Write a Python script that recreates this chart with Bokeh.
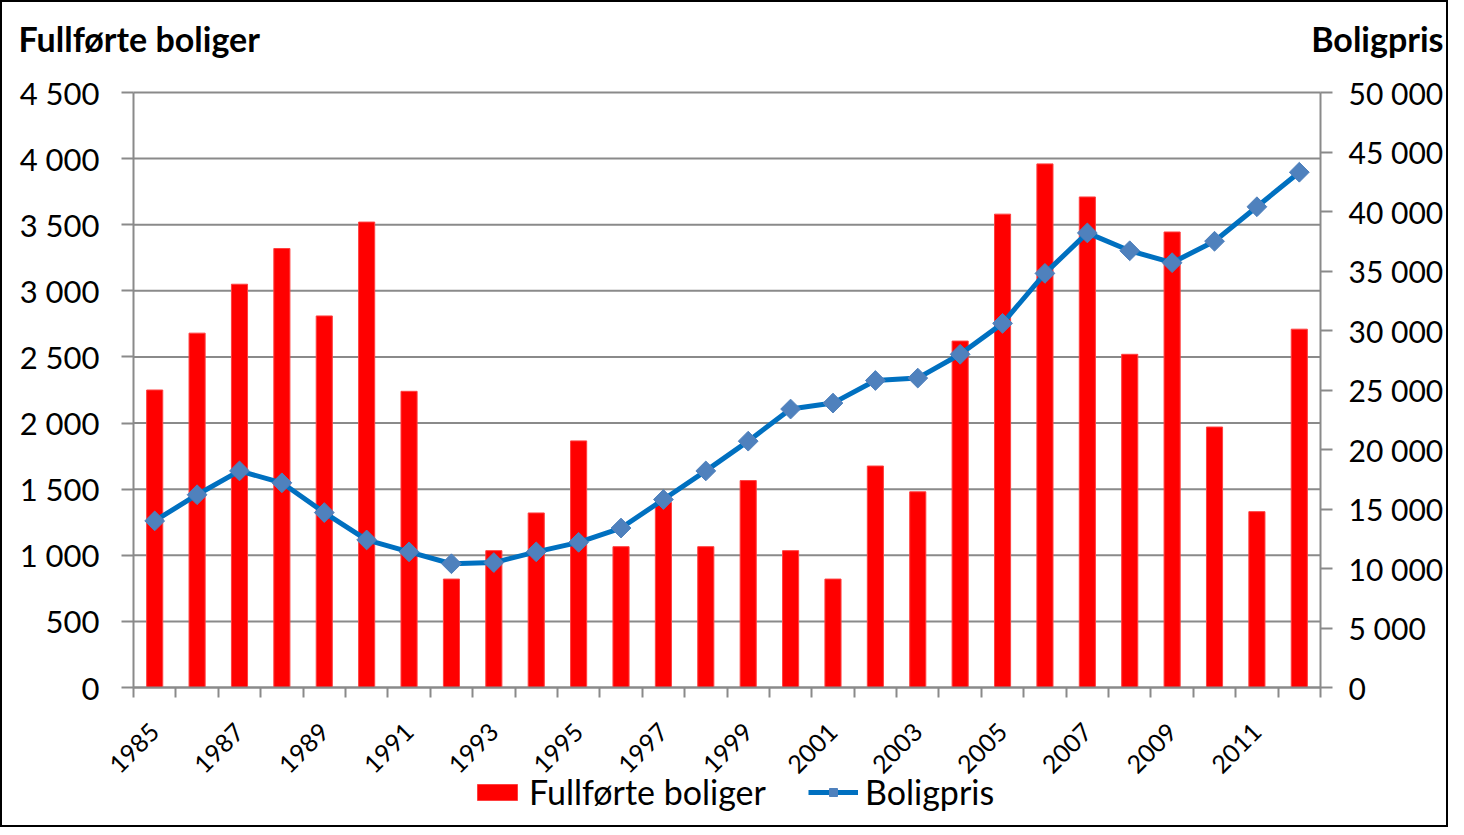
from math import pi
from bokeh.plotting import figure
from bokeh.models import (Range1d, LinearAxis, FixedTicker, Legend, LegendItem,
                          Label, ColumnDataSource)
from bokeh.embed import file_html
from bokeh.resources import INLINE

# ---- data ----
years = list(range(1985, 2013))
fullforte_boliger = [2250, 2680, 3050, 3320, 2810, 3520, 2240, 820, 1035, 1320,
                     1865, 1065, 1400, 1065, 1565, 1035, 820, 1675, 1480, 2620,
                     3580, 3960, 3710, 2520, 3445, 1970, 1330, 2710]
boligpris = [14000, 16200, 18200, 17200, 14700, 12400, 11400, 10400, 10500, 11400,
             12200, 13400, 15800, 18200, 20700, 23400, 23900, 25800, 26000, 28000,
             30600, 34800, 38200, 36700, 35700, 37500, 40400, 43300]
left_ticks = list(range(0, 4501, 500))
right_ticks = list(range(0, 50001, 5000))

def fmt(v):
    return f"{v:,}".replace(",", " ")

FONT = "Lato"
GRAY = "#8a8a8a"

# ---- layout (canvas pixels) ----
W, H = 1448, 827
N = len(years)
LEFT_MAX, RIGHT_MAX = 4500, 50000
PX_X0, PX_XN = 131, 1318        # x of left / right axis
PX_Y0, PX_YTOP = 685, 90        # y of value 0 / value max
cat_px = (PX_XN - PX_X0) / N
ppu = (PX_Y0 - PX_YTOP) / LEFT_MAX
ratio = RIGHT_MAX / LEFT_MAX

def px2x(px):
    return (px - PX_X0) / cat_px

def px2y(py):
    return (PX_Y0 - py) / ppu

x_range = Range1d(px2x(0), px2x(W))
y_range = Range1d(px2y(H), px2y(0))

xpos = [i + 0.5 for i in range(N)]
src = ColumnDataSource(dict(x=xpos, bol=fullforte_boliger, pris=boligpris))

p = figure(width=W, height=H, output_backend="svg", toolbar_location=None,
           x_range=x_range, y_range=y_range,
           x_axis_location=None, y_axis_location=None, min_border=0)
p.min_border_left = p.min_border_right = p.min_border_top = p.min_border_bottom = 0
p.title.visible = False
p.styles = {"border": "2px solid #000", "box-sizing": "border-box"}
p.outline_line_color = None
p.background_fill_color = "white"
p.border_fill_color = "white"
p.grid.visible = False

p.extra_y_ranges = {"right": Range1d(px2y(H) * ratio, px2y(0) * ratio)}

# gridlines at the left-axis ticks
p.segment(x0=0, x1=N, y0=left_ticks, y1=left_ticks, line_color=GRAY, line_width=2)

bars = p.vbar(x="x", top="bol", width=0.38, source=src,
              fill_color="#FF0000", line_color="#FF4040", line_width=1)
line = p.line(x="x", y="pris", source=src, y_range_name="right",
              line_color="#0070C0", line_width=5)
marks = p.scatter(x="x", y="pris", source=src, y_range_name="right",
                  marker="square", angle=pi / 4, size=14,
                  fill_color="#4F81BD", line_color="#4F81BD")

# x axis at y = 0
xa = LinearAxis(fixed_location=0, bounds=(0, N))
xa.ticker = FixedTicker(ticks=[i + 0.5 for i in range(0, N, 2)],
                        minor_ticks=list(range(N + 1)))
xa.major_label_overrides = {i + 0.5: str(years[i]) for i in range(0, N, 2)}
xa.major_tick_out = 0
xa.major_tick_in = 0
xa.minor_tick_out = 10
xa.minor_tick_in = 0
xa.minor_tick_line_color = GRAY
xa.minor_tick_line_width = 2
xa.axis_line_color = GRAY
xa.axis_line_width = 2
xa.major_label_orientation = pi / 4
xa.major_label_text_font = FONT
xa.major_label_text_font_size = "25px"
xa.major_label_text_color = "black"
xa.major_label_standoff = 30
p.add_layout(xa, "below")

# left axis
ya = LinearAxis(fixed_location=0, bounds=(0, LEFT_MAX),
                ticker=FixedTicker(ticks=left_ticks))
ya.major_label_overrides = {v: fmt(v) for v in left_ticks}
ya.major_tick_out = 12
ya.major_tick_in = 0
ya.major_tick_line_color = GRAY
ya.major_tick_line_width = 2
ya.minor_tick_line_color = None
ya.axis_line_color = GRAY
ya.axis_line_width = 2
ya.major_label_text_font = FONT
ya.major_label_text_font_size = "31px"
ya.major_label_text_color = "black"
ya.major_label_standoff = 22
p.add_layout(ya, "left")

# right axis
ra = LinearAxis(y_range_name="right", fixed_location=N, bounds=(0, RIGHT_MAX),
                ticker=FixedTicker(ticks=right_ticks))
ra.major_label_overrides = {v: fmt(v) for v in right_ticks}
ra.major_tick_out = 12
ra.major_tick_in = 0
ra.major_tick_line_color = GRAY
ra.major_tick_line_width = 2
ra.minor_tick_line_color = None
ra.axis_line_color = GRAY
ra.axis_line_width = 2
ra.major_label_text_font = FONT
ra.major_label_text_font_size = "30px"
ra.major_label_text_color = "black"
ra.major_label_standoff = 16
p.add_layout(ra, "right")

# axis titles
p.add_layout(Label(x=px2x(16), y=px2y(36), text="Fullførte boliger",
                   text_font=FONT, text_font_style="bold", text_font_size="34px",
                   text_baseline="middle", text_align="left", text_color="black"))
p.add_layout(Label(x=px2x(1441), y=px2y(36), text="Boligpris",
                   text_font=FONT, text_font_style="bold", text_font_size="34px",
                   text_baseline="middle", text_align="right", text_color="black"))

legend = Legend(items=[LegendItem(label="Fullførte boliger", renderers=[bars]),
                       LegendItem(label="Boligpris", renderers=[line, marks])],
                orientation="horizontal", location=(470, 17),
                border_line_color=None, background_fill_alpha=0,
                label_text_font=FONT, label_text_font_size="34px",
                label_text_color="black", glyph_width=50, glyph_height=20,
                spacing=42, label_standoff=7, padding=0, margin=0)
p.add_layout(legend)

open("out.html", "w").write(file_html(p, INLINE))
